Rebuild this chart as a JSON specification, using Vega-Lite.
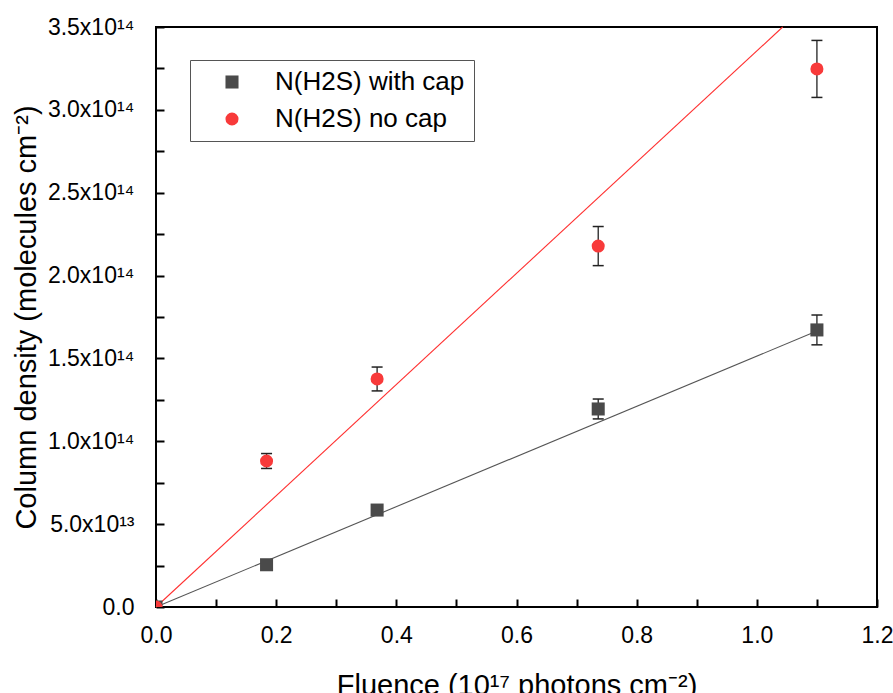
{
  "$schema": "https://vega.github.io/schema/vega-lite/v6.json",
  "width": 721,
  "height": 580,
  "padding": {"left": 12, "top": 16, "right": 0, "bottom": 0},
  "config": {
    "font": "Liberation Sans",
    "view": {"stroke": "black", "strokeWidth": 2}
  },
  "layer": [
    {
      "data": {"values": [
        {"fit": "with cap fit", "fluence": 0.0, "N": 0.0},
        {"fit": "with cap fit", "fluence": 1.1, "N": 1.665e14}
      ]},
      "mark": {"type": "line", "strokeWidth": 1.1, "color": "#555555"},
      "encoding": {
        "x": {"field": "fluence", "type": "quantitative", "scale": {"domain": [0, 1.2], "nice": false},
          "axis": {"grid": false, "domain": false, "ticks": true, "tickColor": "black", "tickWidth": 2, "tickSize": -8,
            "values": [0, 0.1, 0.2, 0.3, 0.4, 0.5, 0.6, 0.7, 0.8, 0.9, 1.0, 1.1, 1.2],
            "labelExpr": "round(datum.value * 10) % 2 == 0 ? format(datum.value, '.1f') : ''",
            "labelFlush": false, "labelPadding": 25, "labelFont": "Liberation Sans", "labelFontSize": 23, "labelColor": "black",
            "title": "Fluence (10¹⁷ photons cm⁻²)", "titleFont": "Liberation Sans", "titleFontSize": 29, "titleFontWeight": "normal", "titleColor": "black", "titlePadding": 24}},
        "y": {"field": "N", "type": "quantitative", "scale": {"domain": [0, 3.5e14], "nice": false},
          "axis": {"grid": false, "domain": false, "ticks": true, "tickColor": "black", "tickWidth": 2, "tickSize": -8,
            "values": [0, 2.5e13, 5e13, 7.5e13, 1e14, 1.25e14, 1.5e14, 1.75e14, 2e14, 2.25e14, 2.5e14, 2.75e14, 3e14, 3.25e14, 3.5e14],
            "labelExpr": "round(datum.value / 2.5e13) % 2 == 1 ? '' : (datum.value == 0 ? '0.0' : (datum.value < 9e13 ? format(datum.value / 1e13, '.1f') + 'x10¹³' : format(datum.value / 1e14, '.1f') + 'x10¹⁴'))",
            "labelFlush": false, "labelPadding": 30, "labelFont": "Liberation Sans", "labelFontSize": 23, "labelColor": "black",
            "title": "Column density (molecules cm⁻²)", "titleFont": "Liberation Sans", "titleFontSize": 29, "titleFontWeight": "normal", "titleColor": "black", "titlePadding": 6}}
      }
    },
    {
      "data": {"values": [
        {"fit": "no cap fit", "fluence": 0.0, "N": 0.0},
        {"fit": "no cap fit", "fluence": 1.043, "N": 3.5e14}
      ]},
      "mark": {"type": "line", "strokeWidth": 1.1, "color": "#ff3030"},
      "encoding": {
        "x": {"field": "fluence", "type": "quantitative"},
        "y": {"field": "N", "type": "quantitative"}
      }
    },
    {
      "data": {"values": [
        {"series": "N(H2S) with cap", "fluence": 0.184, "lo": 2.35e13, "hi": 2.75e13},
        {"series": "N(H2S) with cap", "fluence": 0.368, "lo": 5.65e13, "hi": 6.05e13},
        {"series": "N(H2S) with cap", "fluence": 0.736, "lo": 1.135e14, "hi": 1.255e14},
        {"series": "N(H2S) with cap", "fluence": 1.1, "lo": 1.582e14, "hi": 1.762e14},
        {"series": "N(H2S) no cap", "fluence": 0.184, "lo": 8.36e13, "hi": 9.26e13},
        {"series": "N(H2S) no cap", "fluence": 0.368, "lo": 1.304e14, "hi": 1.448e14},
        {"series": "N(H2S) no cap", "fluence": 0.736, "lo": 2.06e14, "hi": 2.296e14},
        {"series": "N(H2S) no cap", "fluence": 1.1, "lo": 3.075e14, "hi": 3.419e14}
      ]},
      "layer": [
        {
          "mark": {"type": "rule", "color": "#222222", "strokeWidth": 1.3},
          "encoding": {
            "x": {"field": "fluence", "type": "quantitative"},
            "y": {"field": "lo", "type": "quantitative"},
            "y2": {"field": "hi"}
          }
        },
        {
          "mark": {"type": "point", "shape": "M-1,0L1,0", "filled": false, "stroke": "#222222", "strokeWidth": 1.5, "size": 121, "opacity": 1},
          "encoding": {
            "x": {"field": "fluence", "type": "quantitative"},
            "y": {"field": "lo", "type": "quantitative"}
          }
        },
        {
          "mark": {"type": "point", "shape": "M-1,0L1,0", "filled": false, "stroke": "#222222", "strokeWidth": 1.5, "size": 121, "opacity": 1},
          "encoding": {
            "x": {"field": "fluence", "type": "quantitative"},
            "y": {"field": "hi", "type": "quantitative"}
          }
        }
      ]
    },
    {
      "data": {"values": [
        {"series": "N(H2S) with cap", "fluence": 0.0, "N": 0.0},
        {"series": "N(H2S) with cap", "fluence": 0.184, "N": 2.55e13},
        {"series": "N(H2S) with cap", "fluence": 0.368, "N": 5.85e13},
        {"series": "N(H2S) with cap", "fluence": 0.736, "N": 1.195e14},
        {"series": "N(H2S) with cap", "fluence": 1.1, "N": 1.672e14},
        {"series": "N(H2S) no cap", "fluence": 0.0, "N": 0.0},
        {"series": "N(H2S) no cap", "fluence": 0.184, "N": 8.81e13},
        {"series": "N(H2S) no cap", "fluence": 0.368, "N": 1.376e14},
        {"series": "N(H2S) no cap", "fluence": 0.736, "N": 2.178e14},
        {"series": "N(H2S) no cap", "fluence": 1.1, "N": 3.247e14}
      ]},
      "mark": {"type": "point", "filled": true, "opacity": 1, "size": 170, "clip": true},
      "encoding": {
        "x": {"field": "fluence", "type": "quantitative"},
        "y": {"field": "N", "type": "quantitative"},
        "color": {"field": "series", "type": "nominal",
          "scale": {"domain": ["N(H2S) with cap", "N(H2S) no cap"], "range": ["#4a4a4a", "#f83a3a"]},
          "legend": {"title": null, "orient": "none", "legendX": 34, "legendY": 33, "labelFontSize": 26, "labelFont": "Liberation Sans", "labelColor": "black", "labelLimit": 0,
            "symbolSize": 170, "symbolOffset": 20, "labelOffset": 30, "rowPadding": 11, "padding": 9, "strokeColor": "#555555", "fillColor": "white"}},
        "shape": {"field": "series", "type": "nominal",
          "scale": {"domain": ["N(H2S) with cap", "N(H2S) no cap"], "range": ["square", "circle"]},
          "legend": {"title": null, "orient": "none", "legendX": 34, "legendY": 33, "labelFontSize": 26, "labelFont": "Liberation Sans", "labelColor": "black", "labelLimit": 0,
            "symbolSize": 170, "symbolOffset": 20, "labelOffset": 30, "rowPadding": 11, "padding": 9, "strokeColor": "#555555", "fillColor": "white"}}
      }
    }
  ]
}
